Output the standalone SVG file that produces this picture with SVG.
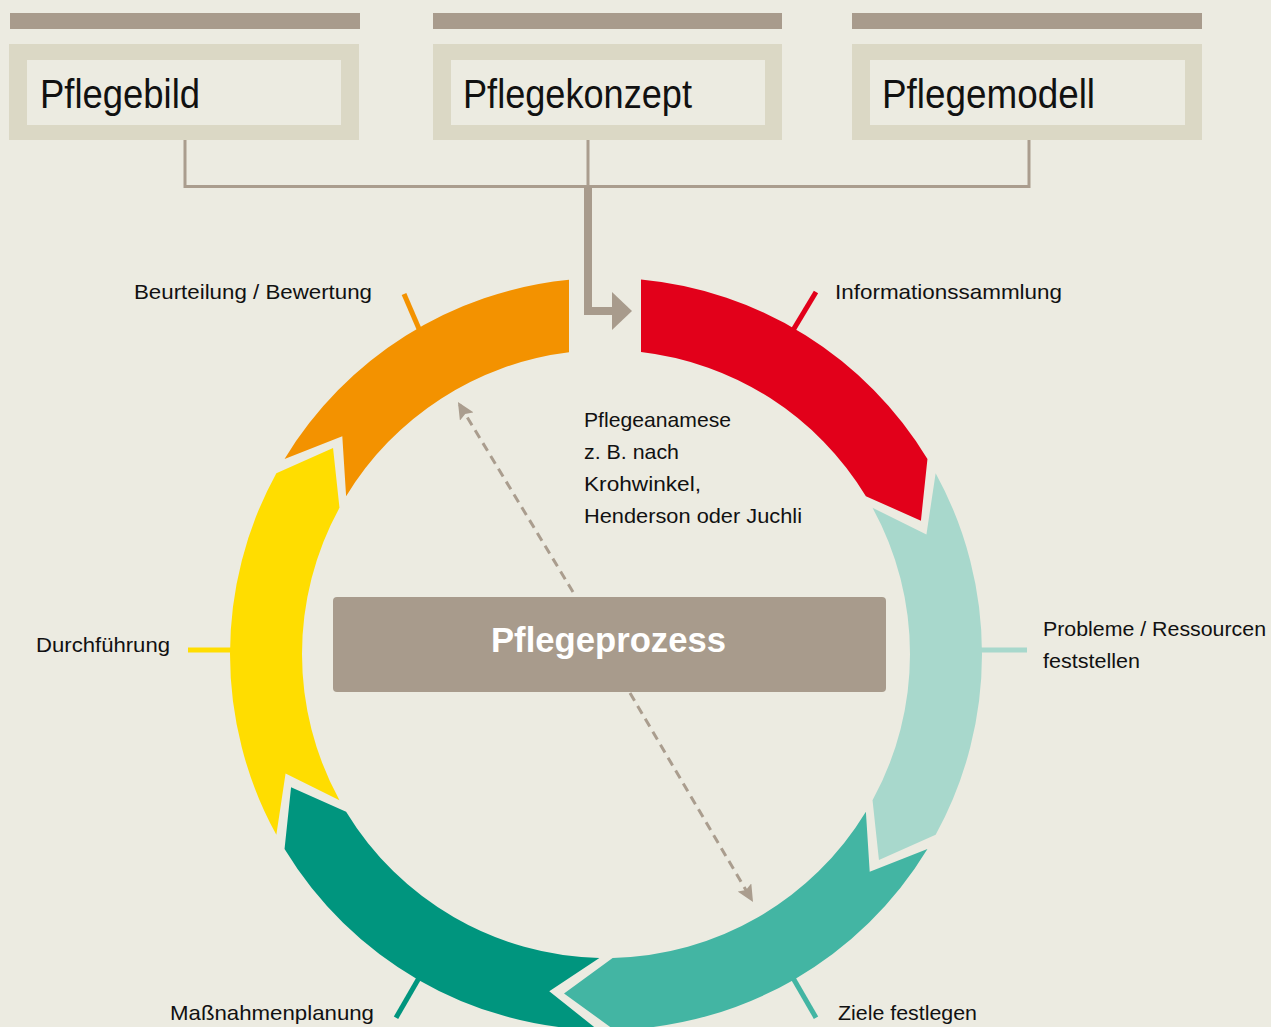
<svg xmlns="http://www.w3.org/2000/svg" width="1271" height="1027" viewBox="0 0 1271 1027">
<defs>
<style>
.bar{fill:#a89b8c}
.box{fill:#dbd8c5}
.inner{fill:#ecebe1}
.title{font-family:"Liberation Sans",Arial,sans-serif;font-size:40px;fill:#111}
.lbl{font-family:"Liberation Sans",Arial,sans-serif;font-size:21px;fill:#111}
.conn{stroke:#aa9d8e;stroke-width:3;fill:none}
.dash{stroke:#aa9d8e;stroke-width:3;fill:none;stroke-dasharray:9 6}
.tick{stroke-width:5;fill:none}
</style>
<marker id="ah" markerWidth="17" markerHeight="16" refX="14" refY="8" orient="auto" markerUnits="userSpaceOnUse" viewBox="0 0 17 16">
<path d="M0,0 L17,8 L0,16 L3,8 Z" fill="#aa9d8e"/>
</marker>
</defs>
<rect x="0" y="0" width="1271" height="1027" fill="#ecebe1"/>

<g id="pflegebild">
<rect class="bar" x="10" y="13" width="350" height="16"/>
<rect class="box" x="9" y="44" width="350" height="96"/>
<rect class="inner" x="27" y="60" width="314" height="65"/>
<text class="title" x="40" y="108" textLength="160" lengthAdjust="spacingAndGlyphs">Pflegebild</text>
</g>
<g id="pflegekonzept">
<rect class="bar" x="433" y="13" width="349" height="16"/>
<rect class="box" x="433" y="44" width="349" height="96"/>
<rect class="inner" x="451" y="60" width="314" height="65"/>
<text class="title" x="463" y="108" textLength="229" lengthAdjust="spacingAndGlyphs">Pflegekonzept</text>
</g>
<g id="pflegemodell">
<rect class="bar" x="852" y="13" width="350" height="16"/>
<rect class="box" x="852" y="44" width="350" height="96"/>
<rect class="inner" x="870" y="60" width="315" height="65"/>
<text class="title" x="882" y="108" textLength="213" lengthAdjust="spacingAndGlyphs">Pflegemodell</text>
</g>

<g id="connectors">
<path class="conn" d="M185,140 V186.5 H1029 V140"/>
<path class="conn" d="M588,140 V186.5"/>
<path d="M588,186.5 V311 H614" stroke="#a89b8c" stroke-width="8" fill="none"/>
<path d="M612,292 L632,311 L612,330 Z" fill="#a89b8c"/>
<path class="dash" d="M573,592 L459.5,404.5" marker-end="url(#ah)"/>
<path class="dash" d="M630,693 L751.5,899.5" marker-end="url(#ah)"/>
</g>

<g id="ticks">
<line class="tick" stroke="#e2001a" x1="791" y1="333.6" x2="816" y2="292"/>
<line class="tick" stroke="#a8d8cc" x1="976" y1="650" x2="1027" y2="650"/>
<line class="tick" stroke="#43b5a3" x1="791" y1="974.4" x2="816" y2="1017.7"/>
<line class="tick" stroke="#00957e" x1="421" y1="974.4" x2="396" y2="1017.7"/>
<line class="tick" stroke="#ffdd00" x1="188" y1="650" x2="236" y2="650"/>
<line class="tick" stroke="#f39200" x1="421" y1="333.6" x2="404" y2="294"/>
</g>

<g id="informationssammlung">
<path fill="#e2001a" d="M641,279.6 A376,376 0 0 1 927.45,458.94 L920.93,520.64 L865.89,496.29 A304,304 0 0 0 641,352 Z"/>
<text class="lbl" x="835" y="299" textLength="227" lengthAdjust="spacingAndGlyphs">Informationssammlung</text>
</g>
<g id="probleme">
<path fill="#a8d8cc" d="M935.65,473.15 A376,376 0 0 1 935.65,834.85 L878.95,860.06 L872.53,800.22 A304,304 0 0 0 872.53,507.78 L926.44,534.51 Z"/>
<text class="lbl" x="1043" y="636" textLength="223" lengthAdjust="spacingAndGlyphs">Probleme / Ressourcen</text>
<text class="lbl" x="1043" y="668" textLength="97" lengthAdjust="spacingAndGlyphs">feststellen</text>
</g>
<g id="ziele">
<path fill="#43b5a3" d="M927.45,849.06 A376,376 0 0 1 614.2,1029.91 L564.02,993.41 L612.63,957.93 A304,304 0 0 0 865.89,811.71 L869.7,871.77 Z"/>
<text class="lbl" x="838" y="1020" textLength="139" lengthAdjust="spacingAndGlyphs">Ziele festlegen</text>
</g>
<g id="massnahmen">
<path fill="#00957e" d="M597.8,1029.91 A376,376 0 0 1 284.55,849.06 L291.07,787.36 L346.11,811.71 A304,304 0 0 0 599.37,957.93 L549.26,991.26 Z"/>
<text class="lbl" x="170" y="1020" textLength="204" lengthAdjust="spacingAndGlyphs">Maßnahmenplanung</text>
</g>
<g id="durchfuehrung">
<path fill="#ffdd00" d="M276.35,834.85 A376,376 0 0 1 276.35,473.15 L333.05,447.94 L339.47,507.78 A304,304 0 0 0 339.47,800.22 L285.56,773.49 Z"/>
<text class="lbl" x="36" y="652" textLength="134" lengthAdjust="spacingAndGlyphs">Durchführung</text>
</g>
<g id="beurteilung">
<path fill="#f39200" d="M284.55,458.94 A376,376 0 0 1 569,279.8 L569,352.3 A304,304 0 0 0 346.11,496.29 L342.3,436.23 Z"/>
<text class="lbl" x="134" y="299" textLength="238" lengthAdjust="spacingAndGlyphs">Beurteilung / Bewertung</text>
</g>

<g id="pflegeanamese">
<text class="lbl" x="584" y="427" textLength="147" lengthAdjust="spacingAndGlyphs">Pflegeanamese</text>
<text class="lbl" x="584" y="459" textLength="95" lengthAdjust="spacingAndGlyphs">z. B. nach</text>
<text class="lbl" x="584" y="491" textLength="117" lengthAdjust="spacingAndGlyphs">Krohwinkel,</text>
<text class="lbl" x="584" y="523" textLength="218" lengthAdjust="spacingAndGlyphs">Henderson oder Juchli</text>
</g>

<g id="pflegeprozess">
<rect x="333" y="597" width="553" height="95" rx="4" fill="#a89b8c"/>
<text x="491" y="652" font-family="'Liberation Sans',Arial,sans-serif" font-weight="bold" font-size="35" fill="#ffffff" textLength="235" lengthAdjust="spacingAndGlyphs">Pflegeprozess</text>
</g>
</svg>
